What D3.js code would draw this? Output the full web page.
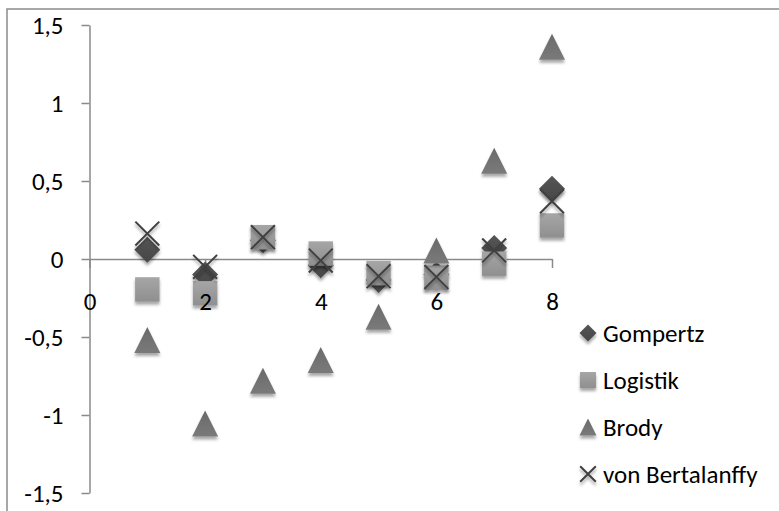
<!DOCTYPE html>
<html><head><meta charset="utf-8">
<script src="https://cdn.jsdelivr.net/npm/d3@7"></script>
<style>
html,body{margin:0;padding:0;background:#fff;}
svg{display:block;}
text{font-family:Calibri,Carlito,Lato,sans-serif;fill:#000;}
</style></head>
<body>
<svg id="chart" width="779" height="511"></svg>
<script>
const xValues = [1, 2, 3, 4, 5, 6, 7, 8];
const seriesNames = ["Gompertz", "Logistik", "Brody", "von Bertalanffy"];
const gompertz = [0.06, -0.10, 0.12, -0.04, -0.135, -0.10, 0.07, 0.45];
const logistik = [-0.195, -0.22, 0.14, 0.035, -0.09, -0.12, -0.03, 0.215];
const brody = [-0.52, -1.055, -0.78, -0.647, -0.37, 0.055, 0.63, 1.36];
const bertalanffy = [0.163, -0.05, 0.14, -0.01, -0.11, -0.115, 0.055, 0.37];
const xTicks = [0, 2, 4, 6, 8];
const yTicks = [-1.5, -1, -0.5, 0, 0.5, 1, 1.5];

const seriesValues = [gompertz, logistik, brody, bertalanffy];
const shapes = ["diamond", "square", "triangle", "cross"];
const FONT = 25;

const svg = d3.select("#chart");
const defs = svg.append("defs");
const f = defs.append("filter").attr("id","shadow").attr("x","-50%").attr("y","-50%").attr("width","200%").attr("height","200%");
f.append("feDropShadow").attr("dx",0).attr("dy",3).attr("stdDeviation",1.8).attr("flood-color","#000").attr("flood-opacity",0.35);

function grad(id, c1, c2){
  const g = defs.append("linearGradient").attr("id",id).attr("x1",0).attr("y1",0).attr("x2",0).attr("y2",1);
  g.append("stop").attr("offset","0%").attr("stop-color",c1);
  g.append("stop").attr("offset","100%").attr("stop-color",c2);
}
grad("gDia","#555555","#474747");
grad("gSq","#a6a6a6","#8f8f8f");
grad("gTri","#6a6a6a","#7a7a7a");

// chart frame
svg.append("path").attr("d","M7,520 V9 H790").attr("fill","none").attr("stroke","#8c8c8c").attr("stroke-width",1.5);

const x = d3.scaleLinear().domain([0, 8]).range([89.5, 552]);
const y = d3.scaleLinear().domain([-1.5, 1.5]).range([493, 25]);

const fmt = v => String(v).replace(".", ",");

function styleAxis(a){
  a.selectAll("path,line").attr("stroke","#8a8a8a").attr("stroke-width",1.5);
  a.selectAll("text").attr("font-size",FONT).attr("fill","#000").style("font-family","Calibri,Carlito,Lato,sans-serif");
}

const yAxis = svg.append("g").attr("transform","translate(89.5,0)")
  .call(d3.axisLeft(y).tickValues(yTicks).tickSize(8).tickSizeOuter(0).tickPadding(18).tickFormat(fmt));
styleAxis(yAxis);
const xAxisLines = svg.append("g").attr("transform",`translate(0,${y(0)})`)
  .call(d3.axisBottom(x).tickValues(xTicks).tickSize(9).tickSizeOuter(0).tickPadding(24).tickFormat(fmt));
styleAxis(xAxisLines);
xAxisLines.selectAll("text").remove();

function drawMarker(g, shape, cx, cy, s){
  const h = s/2;
  if(shape==="diamond"){
    g.append("path").attr("d",`M${cx},${cy-h} L${cx+h},${cy} L${cx},${cy+h} L${cx-h},${cy} Z`)
      .attr("fill","url(#gDia)").attr("filter","url(#shadow)");
  } else if(shape==="square"){
    const q = h*0.94;
    g.append("rect").attr("x",cx-q).attr("y",cy-q).attr("width",2*q).attr("height",2*q)
      .attr("fill","url(#gSq)").attr("filter","url(#shadow)");
  } else if(shape==="triangle"){
    g.append("path").attr("d",`M${cx},${cy-h} L${cx+h},${cy+h} L${cx-h},${cy+h} Z`)
      .attr("fill","url(#gTri)").attr("filter","url(#shadow)");
  } else {
    const q = h*0.92;
    g.append("path").attr("d",`M${cx-q},${cy-q} L${cx+q},${cy+q} M${cx+q},${cy-q} L${cx-q},${cy+q}`)
      .attr("stroke","#404040").attr("stroke-width",2).attr("fill","none").attr("filter","url(#shadow)");
  }
}

const plot = svg.append("g");
seriesValues.forEach((vals, si)=>{
  const g = plot.append("g");
  vals.forEach((v,i)=> drawMarker(g, shapes[si], x(xValues[i]), y(v), 26));
});

// x-axis labels on top of the markers
const xAxisLabels = svg.append("g").attr("transform",`translate(0,${y(0)})`)
  .call(d3.axisBottom(x).tickValues(xTicks).tickSize(9).tickSizeOuter(0).tickPadding(24).tickFormat(fmt));
styleAxis(xAxisLabels);
xAxisLabels.selectAll("path,line").remove();

// legend
const legendY = [333, 380, 427, 474];
const leg = svg.append("g");
seriesNames.forEach((name, i)=>{
  const g = leg.append("g");
  drawMarker(g, shapes[i], 588, legendY[i], 17);
  g.append("text").attr("x",603).attr("y",legendY[i]).attr("dy","0.35em")
    .attr("font-size",FONT).text(name);
});
</script>
</body></html>
